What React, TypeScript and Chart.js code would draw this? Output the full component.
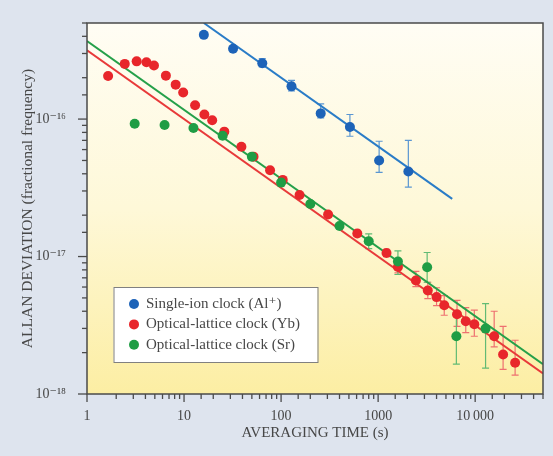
import React, { useEffect, useRef } from "react";
import { Chart, registerables } from "chart.js";

Chart.register(...registerables);

const FONT = '"Liberation Serif", "DejaVu Serif", serif';

// ---- Data ----
const blueTau = [16, 32, 64, 128, 256, 512, 1024, 2048];
const blueSigma = [4.1e-16, 3.25e-16, 2.55e-16, 1.73e-16, 1.1e-16, 8.75e-17, 5.0e-17, 4.15e-17];
const blueErrLow = [null, null, 2.4e-16, 1.6e-16, 1.02e-16, 7.5e-17, 4.1e-17, 3.2e-17];
const blueErrHigh = [null, null, 2.75e-16, 1.91e-16, 1.29e-16, 1.08e-16, 6.9e-17, 7.0e-17];

const redTau = [1.65, 2.45, 3.25, 4.1, 4.9, 6.5, 8.2, 9.8, 13, 16.2, 19.5, 26, 39, 52, 77, 104, 155, 305, 610, 1220, 1600, 2450, 3250, 4000, 4800, 6500, 8000, 9800, 15700, 19400, 25800];
const redSigma = [2.06e-16, 2.52e-16, 2.63e-16, 2.59e-16, 2.45e-16, 2.07e-16, 1.78e-16, 1.56e-16, 1.26e-16, 1.08e-16, 9.8e-17, 8.1e-17, 6.3e-17, 5.33e-17, 4.25e-17, 3.61e-17, 2.8e-17, 2.02e-17, 1.47e-17, 1.06e-17, 8.4e-18, 6.7e-18, 5.67e-18, 5.07e-18, 4.42e-18, 3.8e-18, 3.38e-18, 3.22e-18, 2.63e-18, 1.94e-18, 1.69e-18];
const redErrLow = [null, null, null, null, null, null, null, null, null, null, null, null, null, null, null, null, null, 1.93e-17, 1.4e-17, 1.0e-17, 7.6e-18, 6.05e-18, 4.94e-18, 4.4e-18, 3.74e-18, 3.1e-18, 2.8e-18, 2.63e-18, 2.2e-18, 1.51e-18, 1.37e-18];
const redErrHigh = [null, null, null, null, null, null, null, null, null, null, null, null, null, null, null, null, null, 2.1e-17, 1.55e-17, 1.13e-17, 9.1e-18, 7.8e-18, 6.5e-18, 5.93e-18, 5.2e-18, 4.8e-18, 4.25e-18, 4.07e-18, 4.0e-18, 3.1e-18, 2.46e-18];

const greenTau = [3.1, 6.3, 12.5, 25, 50, 100, 200, 400, 800, 1600, 3200, 6400, 12800];
const greenSigma = [9.25e-17, 9.05e-17, 8.6e-17, 7.57e-17, 5.33e-17, 3.45e-17, 2.41e-17, 1.67e-17, 1.29e-17, 9.2e-18, 8.37e-18, 2.63e-18, 2.99e-18];
const greenErrLow = [null, null, null, null, null, null, null, null, 1.14e-17, 7.4e-18, 6.5e-18, 1.65e-18, 1.54e-18];
const greenErrHigh = [null, null, null, null, null, null, null, null, 1.46e-17, 1.1e-17, 1.07e-17, 3.74e-18, 4.54e-18];

// Fit lines (end points)
const blueFitTau = [16, 5800];
const blueFitSigma = [5.0e-16, 2.63e-17];
const redFitTau = [1, 50000];
const redFitSigma = [3.16e-16, 1.41e-18];
const greenFitTau = [1, 50000];
const greenFitSigma = [3.7e-16, 1.65e-18];

const seriesLabels = ["Single-ion clock (Al\u207A)", "Optical-lattice clock (Yb)", "Optical-lattice clock (Sr)"];
const xTitle = "AVERAGING TIME (s)";
const yTitle = "ALLAN DEVIATION (fractional frequency)";
const xTickLabels: Record<number, string> = { 0: "1", 1: "10", 2: "100", 3: "1000", 4: "10\u2009000" };
const xRange = [1, 50000];
const yRange = [1e-18, 5e-16];

// ---- Styles ----
const BLUE = "#1d63b8", BLUE_LINE = "#2a7cc7", BLUE_ERR = "#5a96d2";
const RED = "#e8262b", RED_LINE = "#e83a3a", RED_ERR = "#ee7070";
const GREEN = "#1f9d45", GREEN_LINE = "#25a04a", GREEN_ERR = "#62bb74";
const TEXT = "#474747";

const SUP: Record<string, string> = { "-": "\u207B", "0": "\u2070", "1": "\u00B9", "2": "\u00B2", "3": "\u00B3", "4": "\u2074", "5": "\u2075", "6": "\u2076", "7": "\u2077", "8": "\u2078", "9": "\u2079" };
const sup = (n: number) => String(n).split("").map((c) => SUP[c] || c).join("");
const isPow10 = (v: number) => {
  const l = Math.log10(v);
  return Math.abs(l - Math.round(l)) < 1e-6;
};
const pts = (xs: number[], ys: number[]) => xs.map((x, i) => ({ x, y: ys[i] }));

const bgPlugin = {
  id: "bg",
  beforeDraw(chart: any) {
    const { ctx, chartArea: a, width, height } = chart;
    ctx.save();
    ctx.fillStyle = "#dee4ee";
    ctx.fillRect(0, 0, width, height);
    const g = ctx.createLinearGradient(0, a.top, 0, a.bottom);
    g.addColorStop(0, "#fffdf4");
    g.addColorStop(0.5, "#fef8d8");
    g.addColorStop(1, "#fceea3");
    ctx.fillStyle = g;
    ctx.fillRect(a.left, a.top, a.right - a.left, a.bottom - a.top);
    ctx.restore();
  },
};

const errPlugin = {
  id: "errbars",
  beforeDatasetsDraw(chart: any) {
    const { ctx } = chart;
    const xs = chart.scales.x, ys = chart.scales.y;
    ctx.save();
    chart.data.datasets.forEach((ds: any) => {
      if (!ds.errLow) return;
      ctx.strokeStyle = ds.errorColor;
      ctx.lineWidth = 1.2;
      ds.data.forEach((p: any, i: number) => {
        const lo = ds.errLow[i], hi = ds.errHigh[i];
        if (lo == null || hi == null) return;
        const px = xs.getPixelForValue(p.x);
        const y1 = ys.getPixelForValue(lo), y2 = ys.getPixelForValue(hi);
        ctx.beginPath();
        ctx.moveTo(px, y1); ctx.lineTo(px, y2);
        ctx.moveTo(px - 3.5, y1); ctx.lineTo(px + 3.5, y1);
        ctx.moveTo(px - 3.5, y2); ctx.lineTo(px + 3.5, y2);
        ctx.stroke();
      });
    });
    ctx.restore();
  },
};

const framePlugin = {
  id: "frame",
  afterDatasetsDraw(chart: any) {
    const { ctx, chartArea: a } = chart;
    ctx.save();
    ctx.strokeStyle = "#4a4a4a";
    ctx.lineWidth = 1.5;
    ctx.strokeRect(a.left, a.top, a.right - a.left, a.bottom - a.top);
    // tick marks
    ctx.lineWidth = 1.3;
    ctx.strokeStyle = "#4a4a4a";
    const xs = chart.scales.x, ys = chart.scales.y;
    xs.ticks.forEach((t: any) => {
      const px = xs.getPixelForValue(t.value);
      const len = isPow10(t.value) ? 8 : 5;
      ctx.beginPath(); ctx.moveTo(px, a.bottom); ctx.lineTo(px, a.bottom + len); ctx.stroke();
    });
    ys.ticks.forEach((t: any) => {
      const py = ys.getPixelForValue(t.value);
      const len = isPow10(t.value) ? 9 : 5;
      ctx.beginPath(); ctx.moveTo(a.left - len, py); ctx.lineTo(a.left, py); ctx.stroke();
    });
    // legend
    const items = chart.data.datasets.filter((d: any) => d.inLegend);
    const bx = a.left + 26.5, by = a.bottom - 107, bw = 204, bh = 75;
    ctx.fillStyle = "#ffffff";
    ctx.fillRect(bx, by, bw, bh);
    ctx.strokeStyle = "#808080";
    ctx.lineWidth = 1;
    ctx.strokeRect(bx + 0.5, by + 0.5, bw, bh);
    ctx.font = `15px ${FONT}`;
    ctx.textBaseline = "middle";
    ctx.textAlign = "left";
    items.forEach((d: any, i: number) => {
      const cy = by + 17 + i * 20.4;
      ctx.fillStyle = d.backgroundColor;
      ctx.beginPath(); ctx.arc(bx + 20.5, cy, 5, 0, Math.PI * 2); ctx.fill();
      ctx.fillStyle = TEXT;
      ctx.fillText(d.label, bx + 32.5, cy);
    });
    ctx.restore();
  },
};

export default function App() {
  const ref = useRef<HTMLCanvasElement>(null);
  useEffect(() => {
    if (!ref.current) return;
    const pointDs = (label: string, xs: number[], ys: number[], color: string, errColor: string, lo: any[], hi: any[], order: number) => ({
      type: "scatter",
      label,
      data: pts(xs, ys),
      backgroundColor: color,
      borderColor: color,
      borderWidth: 0,
      pointRadius: 5,
      pointHoverRadius: 5,
      showLine: false,
      order,
      errLow: lo,
      errHigh: hi,
      errorColor: errColor,
      inLegend: true,
    });
    const lineDs = (xs: number[], ys: number[], color: string) => ({
      type: "line",
      label: "",
      data: pts(xs, ys),
      borderColor: color,
      backgroundColor: color,
      borderWidth: 2,
      pointRadius: 0,
      showLine: true,
      fill: false,
      order: 5,
    });
    const chart = new Chart(ref.current, {
      type: "scatter",
      data: {
        datasets: [
          pointDs(seriesLabels[0], blueTau, blueSigma, BLUE, BLUE_ERR, blueErrLow, blueErrHigh, 1),
          pointDs(seriesLabels[1], redTau, redSigma, RED, RED_ERR, redErrLow, redErrHigh, 2),
          pointDs(seriesLabels[2], greenTau, greenSigma, GREEN, GREEN_ERR, greenErrLow, greenErrHigh, 1),
          lineDs(blueFitTau, blueFitSigma, BLUE_LINE),
          lineDs(redFitTau, redFitSigma, RED_LINE),
          lineDs(greenFitTau, greenFitSigma, GREEN_LINE),
        ] as any,
      },
      options: {
        responsive: false,
        devicePixelRatio: 1,
        animation: false,
        layout: { padding: { top: 23, right: 10, bottom: 0, left: 0 } },
        plugins: { legend: { display: false }, tooltip: { enabled: false } },
        scales: {
          x: {
            type: "logarithmic",
            position: "bottom",
            min: xRange[0],
            max: xRange[1],
            grid: { display: false },
            border: { display: false },
            ticks: {
              autoSkip: false,
              maxRotation: 0,
              padding: 6,
              color: TEXT,
              font: { family: FONT, size: 14 },
              callback: (v: any) => (isPow10(Number(v)) ? xTickLabels[Math.round(Math.log10(Number(v)))] ?? "" : ""),
            },
            title: { display: true, text: xTitle, color: TEXT, font: { family: FONT, size: 15 }, padding: { top: 0, bottom: 14 } },
            afterFit: (s: any) => { s.height = 62; },
          },
          y: {
            type: "logarithmic",
            position: "left",
            min: yRange[0],
            max: yRange[1],
            grid: { display: false },
            border: { display: false },
            ticks: {
              autoSkip: false,
              padding: 13,
              color: TEXT,
              font: { family: FONT, size: 14 },
              callback: (v: any) => (isPow10(Number(v)) ? "10" + sup(Math.round(Math.log10(Number(v)))) : ""),
            },
            title: { display: true, text: yTitle, color: TEXT, font: { family: FONT, size: 15.5 }, padding: { top: 19, bottom: 0 } },
            afterFit: (s: any) => { s.width = 87; },
          },
        },
      } as any,
      plugins: [bgPlugin, errPlugin, framePlugin],
    });
    return () => chart.destroy();
  }, []);
  return (
    <div style={{ position: "absolute", left: 0, top: 0, width: 553, height: 456 }}>
      <canvas ref={ref} width={553} height={456} style={{ display: "block" }} />
    </div>
  );
}
